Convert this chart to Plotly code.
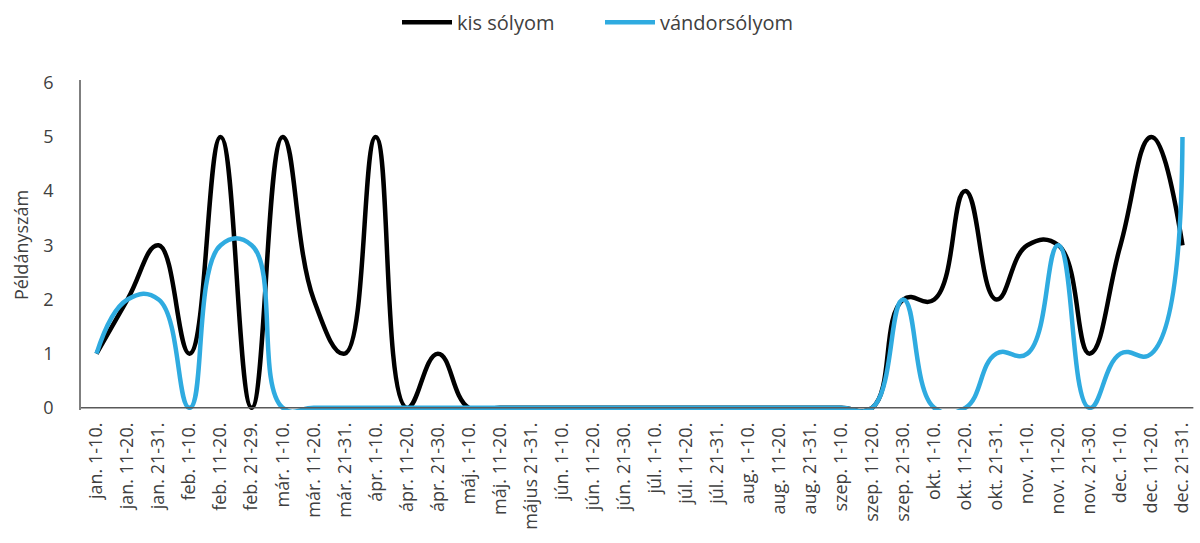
import plotly.graph_objects as go

# Ten-day observation periods
periods = [
    "jan. 1-10.", "jan. 11-20.", "jan. 21-31.",
    "feb. 1-10.", "feb. 11-20.", "feb. 21-29.",
    "már. 1-10.", "már. 11-20.", "már. 21-31.",
    "ápr. 1-10.", "ápr. 11-20.", "ápr. 21-30.",
    "máj. 1-10.", "máj. 11-20.", "május 21-31.",
    "jún. 1-10.", "jún. 11-20.", "jún. 21-30.",
    "júl. 1-10.", "júl. 11-20.", "júl. 21-31.",
    "aug. 1-10.", "aug. 11-20.", "aug. 21-31.",
    "szep. 1-10.", "szep. 11-20.", "szep. 21-30.",
    "okt. 1-10.", "okt. 11-20.", "okt. 21-31.",
    "nov. 1-10.", "nov. 11-20.", "nov. 21-30.",
    "dec. 1-10.", "dec. 11-20.", "dec. 21-31.",
]

# Individuals counted per period
kis_solyom = [1, 2, 3, 1, 5, 0, 5, 2, 1, 5, 0, 1,
              0, 0, 0, 0, 0, 0, 0, 0, 0, 0, 0, 0,
              0, 0, 2, 2, 4, 2, 3, 3, 1, 3, 5, 3]
vandorsolyom = [1, 2, 2, 0, 3, 3, 0, 0, 0, 0, 0, 0,
                0, 0, 0, 0, 0, 0, 0, 0, 0, 0, 0, 0,
                0, 0, 2, 0, 0, 1, 1, 3, 0, 1, 1, 5]

y_ticks = [0, 1, 2, 3, 4, 5, 6]

FONT = "Open Sans"
TEXT = "#404040"

fig = go.Figure()
fig.add_trace(go.Scatter(
    x=periods, y=kis_solyom, name="kis sólyom", mode="lines",
    line=dict(color="#000000", width=4.5, shape="spline", smoothing=1.3),
))
fig.add_trace(go.Scatter(
    x=periods, y=vandorsolyom, name="vándorsólyom", mode="lines",
    line=dict(color="#2FABE0", width=4.5, shape="spline", smoothing=1.3),
))

# horizontal axis line at the zero level, drawn over the series
fig.add_shape(type="line", xref="x", yref="y",
              x0=-0.5, x1=35.35, y0=0, y1=0,
              line=dict(color="#595959", width=1.5), layer="above")

fig.update_layout(
    width=1200, height=543,
    margin=dict(l=81, r=2, t=80, b=133),
    paper_bgcolor="white", plot_bgcolor="white",
    font=dict(family=FONT, color=TEXT),
    showlegend=True,
    legend=dict(orientation="h", x=0.5, xref="container", xanchor="center",
                y=0.995, yref="container", yanchor="top",
                font=dict(size=20, color=TEXT, family=FONT),
                itemwidth=50, entrywidth=138, entrywidthmode="pixels",
                tracegroupgap=0),
    xaxis=dict(
        type="category", range=[-0.5, 35.5],
        tickangle=-90, tickfont=dict(size=18, color=TEXT),
        showgrid=False, showline=False, zeroline=False, ticks="",
        ticklabelstandoff=8,
    ),
    yaxis=dict(
        range=[-0.04, 6.05], tickvals=y_ticks,
        tickfont=dict(size=18, color=TEXT),
        showgrid=False, zeroline=False,
        showline=True, linecolor="#7f7f7f", linewidth=1.5,
        ticks="", ticklabelstandoff=22,
        title=dict(text="Példányszám", font=dict(size=18, color=TEXT), standoff=10),
    ),
)

fig.write_html("out.html")
